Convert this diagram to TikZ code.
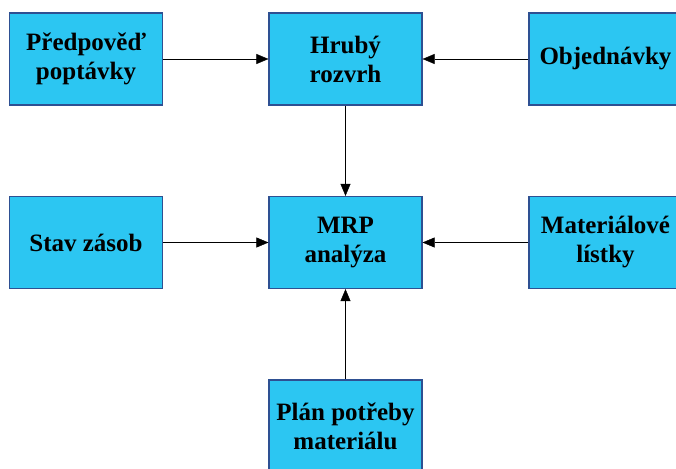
\documentclass[tikz,border=0pt]{standalone}
\usepackage{fontspec}
\setmainfont{Liberation Serif}
\usetikzlibrary{arrows.meta}
\definecolor{boxfill}{RGB}{44,198,242}
\definecolor{boxline}{RGB}{46,80,146}

\begin{document}
\begin{tikzpicture}[x=1pt,y=-1pt,>={Triangle[length=12pt,width=10pt]},
    font=\fontsize{25}{29}\selectfont\bfseries,
    box/.style={draw=boxline,fill=boxfill,line width=1.2pt,minimum width=153pt,
      minimum height=92pt,inner sep=0pt,align=center}]
  \useasboundingbox (0,0) rectangle (676,468);
  \clip (0,0) rectangle (676,468);
  \node[box] (predpoved) at (86,59) {Předpověď\\poptávky};
  \node[box] (hruby) at (345.5,59) {Hrubý\\rozvrh};
  \node[box] (objednavky) at (605.5,59) {Objednávky};
  \node[box] (stav) at (86,242.5) {Stav zásob};
  \node[box] (mrp) at (345.5,242.5) {MRP\\analýza};
  \node[box] (listky) at (605.5,242.5) {Materiálové\\lístky};
  \node[box] (plan) at (345.5,426) {Plán potřeby\\materiálu};
  \draw[->] (predpoved) -- (hruby);
  \draw[->] (objednavky) -- (hruby);
  \draw[->] (hruby) -- (mrp);
  \draw[->] (stav) -- (mrp);
  \draw[->] (listky) -- (mrp);
  \draw[->] (plan) -- (mrp);
\end{tikzpicture}
\end{document}
